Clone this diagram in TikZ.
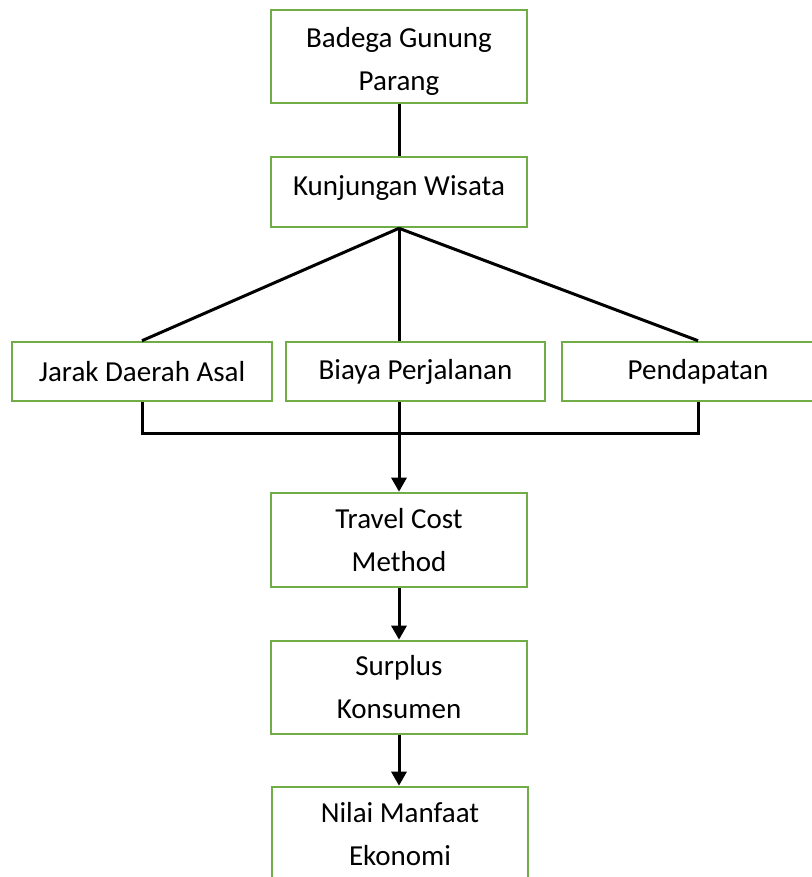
\documentclass[tikz,border=0pt]{standalone}
\usepackage{fontspec}
\setmainfont{Carlito}
\usetikzlibrary{arrows.meta}
\definecolor{boxgreen}{HTML}{70AD47}
\begin{document}
\begin{tikzpicture}[
      x=0.5pt, y=-0.5pt,
      box/.style={draw=boxgreen, line width=1.3pt, inner sep=0pt,
          align=center, font=\fontsize{14.5}{21.5}\selectfont,
          minimum width=128pt},
      link/.style={line width=1.5pt},
      flow/.style={link, -{Triangle[length=7pt,width=7.5pt]}}
    ]
    \useasboundingbox (0,0) rectangle (811,877);
    \node[box, minimum height=46.5pt, text height=36pt] (badega) at (399,56.5) {Badega Gunung\\Parang};
    \node[box, minimum height=35pt, text depth=6pt] (kunjungan) at (399,192) {Kunjungan Wisata};
    \node[box, minimum height=29.5pt, minimum width=130pt] (jarak) at (142,371.5) {Jarak Daerah Asal};
    \node[box, minimum height=29.5pt, minimum width=129.5pt] (biaya) at (415.5,371.5) {Biaya Perjalanan};
    \node[box, minimum height=29.5pt, minimum width=136pt] (pendapatan) at (698,371.5) {Pendapatan};
    \node[box, minimum height=47pt] (travel) at (399,540) {Travel Cost\\Method};
    \node[box, minimum height=46.5pt] (surplus) at (399,687.5) {Surplus\\Konsumen};
    \node[box, minimum height=47pt] (nilai) at (400,834) {Nilai Manfaat\\Ekonomi};
    \coordinate (join) at (399,433);
    \draw[link] (badega) -- (kunjungan);
    \draw[link] (kunjungan.south) -- (jarak.north);
    \draw[link] (kunjungan.south) -- (kunjungan.south |- biaya.north);
    \draw[link] (kunjungan.south) -- (pendapatan.north);
    \draw[link] (jarak.south) |- (join) -| (pendapatan.south);
    \draw[flow] (join |- biaya.south) -- (travel.north);
    \draw[flow] (travel) -- (surplus);
    \draw[flow] (surplus) -- (surplus |- nilai.north);
  \end{tikzpicture}
\end{document}
